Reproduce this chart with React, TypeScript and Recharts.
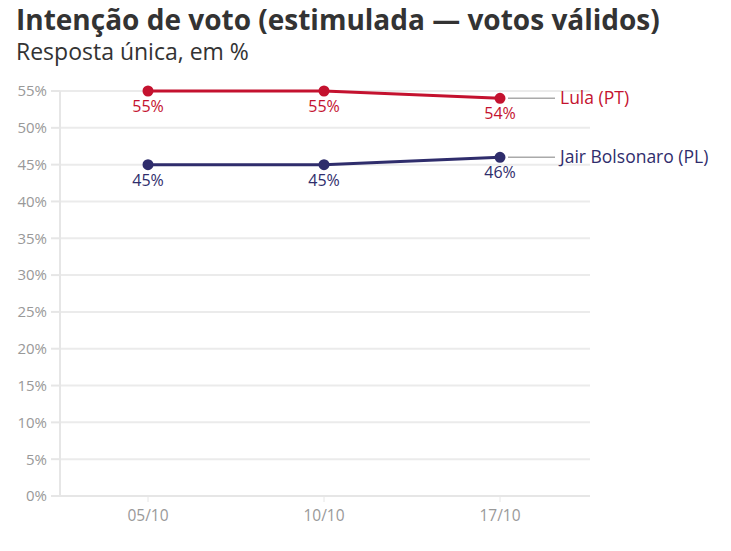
import { CartesianGrid, LabelList, Line, LineChart, XAxis, YAxis } from 'recharts'

const dates = ['05/10', '10/10', '17/10']
const lula = [55, 55, 54]
const bolsonaro = [45, 45, 46]
const yTicks = [0, 5, 10, 15, 20, 25, 30, 35, 40, 45, 50, 55]

const LULA = '#c4122f'
const BOLSO = '#2f2d6c'

const data = dates.map((d, i) => ({ date: d, lula: lula[i], bolsonaro: bolsonaro[i] }))

function makeLabel(color: string, name: string) {
  return (props: any) => {
    const { x, y, value, index } = props
    return (
      <g>
        <text x={x} y={y + 21} textAnchor="middle" fill={color} fontSize={16}>
          {value}%
        </text>
        {index === dates.length - 1 && (
          <g>
            <line x1={x + 8} y1={y} x2={x + 55} y2={y} stroke="#aaa" strokeWidth={1.5} />
            <text x={x + 60} y={y + 6} fill={color} fontSize={17.5}>
              {name}
            </text>
          </g>
        )}
      </g>
    )
  }
}

export default function App() {
  return (
    <div style={{ position: 'relative', width: 731, height: 551, margin: -8, fontFamily: '"Open Sans", sans-serif', color: '#333' }}>
      <div style={{ position: 'absolute', left: 16, top: 5, fontSize: 28, lineHeight: '28px', fontWeight: 700, whiteSpace: 'nowrap' }}>
        Intenção de voto (estimulada — votos válidos)
      </div>
      <div style={{ position: 'absolute', left: 16, top: 40, fontSize: 23, lineHeight: '23px', whiteSpace: 'nowrap' }}>
        Resposta única, em %
      </div>
      <div style={{ position: 'absolute', left: 0, top: 0 }}>
        <LineChart width={731} height={551} data={data} margin={{ top: 91, right: 141, bottom: 25, left: 15 }}>
          <CartesianGrid vertical={false} stroke="#ebebeb" strokeWidth={2} />
          <XAxis
            dataKey="date"
            padding={{ left: 88, right: 90 }}
            axisLine={{ stroke: '#e6e6e6', strokeWidth: 2 }}
            tickLine={{ stroke: '#e6e6e6' }}
            tickSize={6}
            tickMargin={8}
            height={30}
            tick={{ fill: '#999', fontSize: 15.5 }}
          />
          <YAxis
            domain={[0, 55]}
            ticks={yTicks}
            tickFormatter={(v) => `${v}%`}
            width={45}
            axisLine={{ stroke: '#e6e6e6', strokeWidth: 2 }}
            tickLine={{ stroke: '#e6e6e6', strokeWidth: 2 }}
            tickSize={9}
            tickMargin={4}
            tick={{ fill: '#999', fontSize: 15 }}
          />
          <Line dataKey="lula" stroke={LULA} strokeWidth={3} dot={{ r: 4, fill: LULA, stroke: LULA }} isAnimationActive={false}>
            <LabelList dataKey="lula" content={makeLabel(LULA, 'Lula (PT)')} />
          </Line>
          <Line dataKey="bolsonaro" stroke={BOLSO} strokeWidth={3} dot={{ r: 4, fill: BOLSO, stroke: BOLSO }} isAnimationActive={false}>
            <LabelList dataKey="bolsonaro" content={makeLabel(BOLSO, 'Jair Bolsonaro (PL)')} />
          </Line>
        </LineChart>
      </div>
      <div style={{ position: 'absolute', left: 17, right: 0, top: 548, borderTop: '1px solid #ddd' }} />
    </div>
  )
}
